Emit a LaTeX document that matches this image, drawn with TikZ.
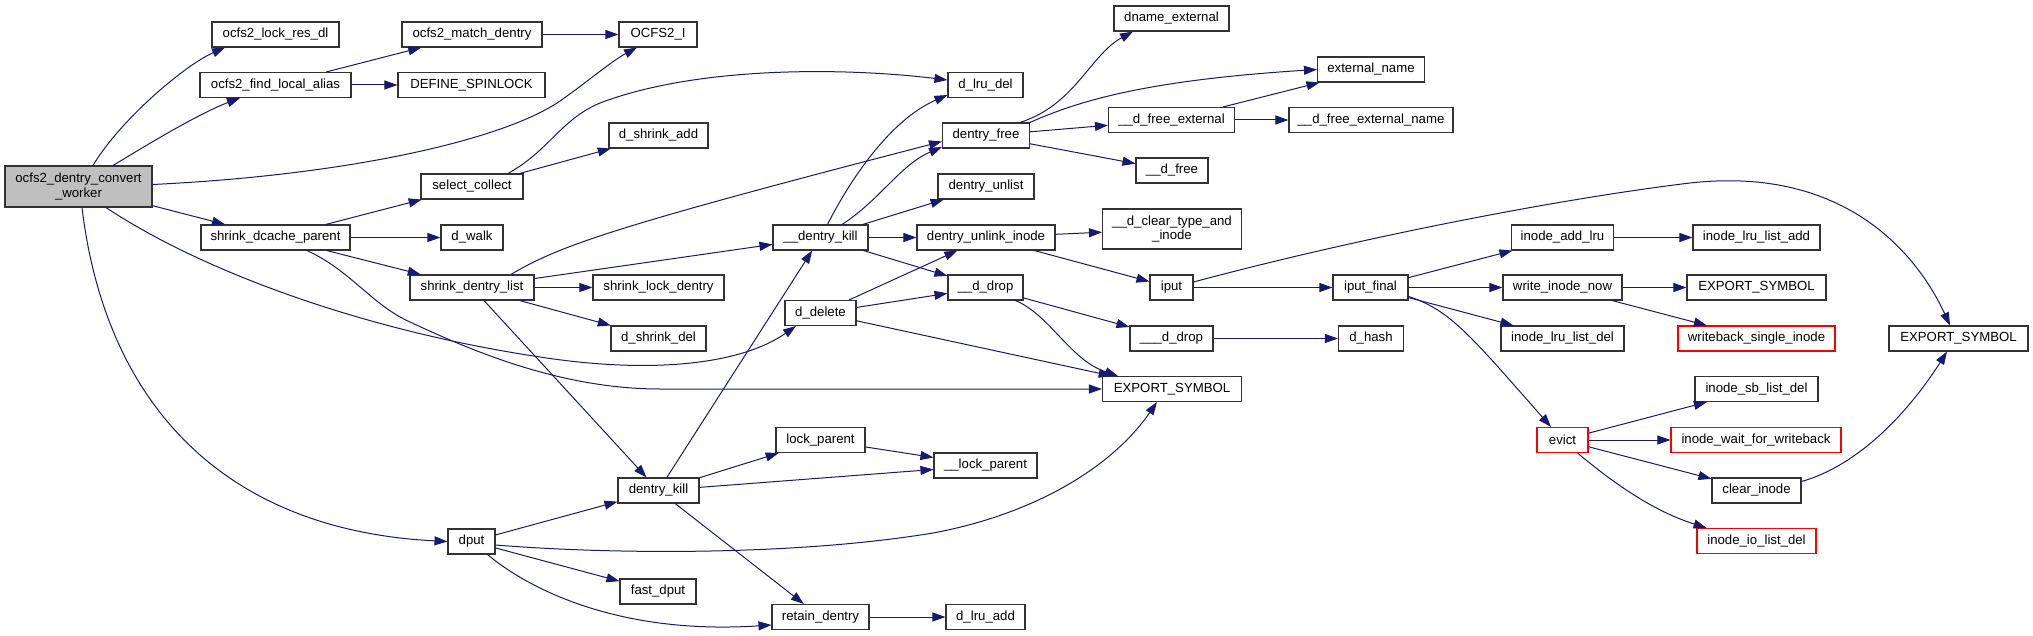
\documentclass[tikz,border=0pt]{standalone}
\usepackage{fontspec}
\setmainfont{Liberation Sans}
\usetikzlibrary{arrows.meta}
\definecolor{edgeblue}{HTML}{191970}
\definecolor{rootgray}{HTML}{BFBFBF}
\begin{document}
\begin{tikzpicture}[x=1pt,y=-1pt,
  box/.style={draw=black!80, line width=1.1pt, fill=white, inner sep=0pt, minimum height=25pt, font=\fontsize{13.2}{14.6}\selectfont, align=center},
  redbox/.style={box, draw=red},
  bw/.style={minimum width=#1},
  edge/.style={draw=edgeblue, line width=1pt, -{Triangle[length=13pt,width=9pt]}}]
\useasboundingbox (0,0) rectangle (2033,636);
% column 0
\node[box, bw=147pt, minimum height=41pt, fill=rootgray] (worker) at (78.5,186.5) {ocfs2\_dentry\_convert\\\_worker};
% column 1
\node[box, bw=127pt] (lockres) at (275.5,34.5) {ocfs2\_lock\_res\_dl};
\node[box, bw=151pt] (findalias) at (275.5,85) {ocfs2\_find\_local\_alias};
\node[box, bw=149pt] (sdp) at (275.5,237.5) {shrink\_dcache\_parent};
% column 2
\node[box, bw=140pt] (matchd) at (472,34.5) {ocfs2\_match\_dentry};
\node[box, bw=147pt] (spinlock) at (471.5,85) {DEFINE\_SPINLOCK};
\node[box, bw=102pt] (selcol) at (472,186.5) {select\_collect};
\node[box, bw=62pt] (dwalk) at (472,237.5) {d\_walk};
\node[box, bw=124pt] (sdl) at (472,287.5) {shrink\_dentry\_list};
\node[box, bw=47pt] (dput) at (471.5,541.5) {dput};
% column 3
\node[box, bw=78pt] (ocfsi) at (658,34.5) {OCFS2\_I};
\node[box, bw=99pt] (dshrinkadd) at (658.5,135.5) {d\_shrink\_add};
\node[box, bw=131pt] (sld) at (658.5,287.5) {shrink\_lock\_dentry};
\node[box, bw=95pt] (dshrinkdel) at (658.5,338.5) {d\_shrink\_del};
\node[box, bw=81pt] (dkill) at (658.5,490.5) {dentry\_kill};
\node[box, bw=76pt] (fastdput) at (658,591.5) {fast\_dput};
% column 4
\node[box, bw=95pt] (dkill2) at (820.5,237.5) {\_\_dentry\_kill};
\node[box, bw=71pt] (ddelete) at (820.5,313) {d\_delete};
\node[box, bw=89pt] (lockp) at (820.5,440) {lock\_parent};
\node[box, bw=97pt] (retain) at (820.5,617) {retain\_dentry};
% column 5
\node[box, bw=75pt] (dlrudel) at (985.5,85) {d\_lru\_del};
\node[box, bw=87pt] (dfree) at (986,135.5) {dentry\_free};
\node[box, bw=96pt] (dunlist) at (986,186.5) {dentry\_unlist};
\node[box, bw=138pt] (dui) at (986,237.5) {dentry\_unlink\_inode};
\node[box, bw=75pt] (ddrop) at (985.5,287.5) {\_\_d\_drop};
\node[box, bw=103pt] (llockp) at (985.5,465.5) {\_\_lock\_parent};
\node[box, bw=79pt] (dlruadd) at (985.5,617) {d\_lru\_add};
% column 6
\node[box, bw=115pt] (dnameext) at (1171.5,18.5) {dname\_external};
\node[box, bw=126pt] (dfreeext) at (1171.5,120) {\_\_d\_free\_external};
\node[box, bw=72pt] (dfree2) at (1172,170.5) {\_\_d\_free};
\node[box, bw=139pt, minimum height=40pt] (dclear) at (1172,229) {\_\_d\_clear\_type\_and\\\_inode};
\node[box, bw=43pt] (iput) at (1171.5,287.5) {iput};
\node[box, bw=83pt] (dddrop) at (1171.5,338.5) {\_\_\_d\_drop};
\node[box, bw=139pt] (exp1) at (1172,389) {EXPORT\_SYMBOL};
% column 7
\node[box, bw=107pt] (extname) at (1371,69.5) {external\_name};
\node[box, bw=164pt] (dfreeextname) at (1371,120) {\_\_d\_free\_external\_name};
\node[box, bw=75pt] (iputfinal) at (1370.5,287.5) {iput\_final};
\node[box, bw=65pt] (dhash) at (1371,338.5) {d\_hash};
% column 8
\node[box, bw=102pt] (inodeaddlru) at (1562.5,237.5) {inode\_add\_lru};
\node[box, bw=119pt] (win) at (1562.5,287.5) {write\_inode\_now};
\node[box, bw=123pt] (ilrudel) at (1562.5,338.5) {inode\_lru\_list\_del};
\node[redbox, bw=51pt] (evict) at (1562.5,440) {evict};
% column 9
\node[box, bw=127pt] (ilruadd) at (1756.5,237.5) {inode\_lru\_list\_add};
\node[box, bw=139pt] (exp2) at (1756.5,287.5) {EXPORT\_SYMBOL};
\node[redbox, bw=157pt] (wsi) at (1756.5,338.5) {writeback\_single\_inode};
\node[box, bw=123pt] (isbdel) at (1756.5,389) {inode\_sb\_list\_del};
\node[redbox, bw=170pt] (iwfw) at (1756,440) {inode\_wait\_for\_writeback};
\node[box, bw=89pt] (clearinode) at (1756.5,490.5) {clear\_inode};
\node[redbox, bw=119pt] (iiodel) at (1756.5,541) {inode\_io\_list\_del};
% column 10
\node[box, bw=139pt] (exp3) at (1958.5,338.5) {EXPORT\_SYMBOL};

% edges
\draw[edge] ([xshift=14.5pt]worker.north) .. controls (120,120) and (185,65) .. ([xshift=-50.5pt]lockres.south);
\draw[edge] ([xshift=34.5pt]worker.north) .. controls (150,143) and (200,113) .. ([xshift=-35.5pt]findalias.south);
\draw[edge] ([yshift=2pt]worker.east) .. controls (350,175) and (500,140) .. (557,103) .. controls (585,84) and (610,62) .. ([xshift=-21pt]ocfsi.south);
\draw[edge] (worker) -- (sdp);
\draw[edge] ([xshift=27.5pt]worker.south) .. controls (200,270) and (360,330) .. (540,357) .. controls (650,374) and (740,365) .. ([xshift=-24.5pt]ddelete.south);
\draw[edge] ([xshift=3.5pt]worker.south) .. controls (105,400) and (220,530) .. (dput.west);
\draw[edge] (findalias) -- (matchd);
\draw[edge] (findalias) -- (spinlock);
\draw[edge] (matchd) -- (ocfsi);
\draw[edge] (sdp) -- (selcol);
\draw[edge] (sdp) -- (dwalk);
\draw[edge] (sdp) -- (sdl);
\draw[edge] ([xshift=31.5pt]sdp.south) .. controls (350,270) and (372,305) .. (410,322) .. controls (470,350) and (560,389) .. (660,389) -- (exp1.west);
\draw[edge] ([xshift=36pt]selcol.north) .. controls (550,150) and (560,120) .. (600,103) .. controls (700,65) and (850,68) .. ([yshift=5pt]dlrudel.west);
\draw[edge] (selcol) -- (dshrinkadd);
\draw[edge] ([xshift=39pt]sdl.north) .. controls (560,245) and (620,225) .. ([yshift=-6pt]dfree.west);
\draw[edge] (sdl) -- (dkill2);
\draw[edge] (sdl) -- (sld);
\draw[edge] (sdl) -- (dshrinkdel);
\draw[edge] (sdl) -- (dkill);
\draw[edge] ([xshift=7pt]dkill2.north) .. controls (850,180) and (890,120) .. ([yshift=-10pt]dlrudel.west);
\draw[edge] ([xshift=21.5pt]dkill2.north) .. controls (880,200) and (900,165) .. ([yshift=-11.5pt]dfree.west);
\draw[edge] (dkill2) -- (dunlist);
\draw[edge] (dkill2) -- (dui);
\draw[edge] (dkill2) -- (ddrop);
\draw[edge] (ddelete) -- (dui);
\draw[edge] (ddelete) -- (ddrop);
\draw[edge] (ddelete) -- (exp1);
\draw[edge] ([xshift=30pt]ddrop.south) .. controls (1050,315) and (1070,360) .. ([xshift=-54pt]exp1.north);
\draw[edge] (ddrop) -- (dddrop);
\draw[edge] (dkill) -- (dkill2);
\draw[edge] (dkill) -- (lockp);
\draw[edge] (dkill) -- (llockp);
\draw[edge] (dkill) -- (retain);
\draw[edge] (lockp) -- (llockp);
\draw[edge] (retain) -- (dlruadd);
\draw[edge] (dput) -- (dkill);
\draw[edge] (dput) -- (fastdput);
\draw[edge] ([yshift=-3.5pt]dput.east) .. controls (620,555) and (800,555) .. (933,533) .. controls (1030,515) and (1110,470) .. ([xshift=-15pt]exp1.south);
\draw[edge] ([xshift=16pt]dput.south) .. controls (530,590) and (620,635) .. ([yshift=-8pt]retain.west);
\draw[edge] ([xshift=34pt]dfree.north) .. controls (1075,105) and (1090,55) .. ([xshift=-38.5pt]dnameext.south);
\draw[edge] (dfree.north east) .. controls (1080,100) and (1150,80) .. (extname.west);
\draw[edge] (dfree) -- (dfreeext);
\draw[edge] (dfree) -- (dfree2);
\draw[edge] (dfreeext) -- (extname);
\draw[edge] (dfreeext) -- (dfreeextname);
\draw[edge] (dui) -- (dclear);
\draw[edge] (dui) -- (iput);
\draw[edge] (dddrop) -- (dhash);
\draw[edge] ([yshift=5.5pt]iput.east) .. controls (1350,240) and (1550,200) .. (1690,183) .. controls (1850,165) and (1920,260) .. ([xshift=-8.5pt]exp3.north);
\draw[edge] (iput) -- (iputfinal);
\draw[edge] (iputfinal) -- (inodeaddlru);
\draw[edge] (iputfinal) -- (win);
\draw[edge] (iputfinal) -- (ilrudel);
\draw[edge] ([yshift=-9pt]iputfinal.east) .. controls (1450,310) and (1470,335) .. ([xshift=-11.5pt]evict.north);
\draw[edge] (inodeaddlru) -- (ilruadd);
\draw[edge] (win) -- (exp2);
\draw[edge] (win) -- (wsi);
\draw[edge] (evict) -- (isbdel);
\draw[edge] (evict) -- (iwfw);
\draw[edge] (evict) -- (clearinode);
\draw[edge] ([xshift=15pt]evict.south) .. controls (1610,480) and (1650,510) .. ([xshift=-50pt]iiodel.north);
\draw[edge] ([yshift=9pt]clearinode.east) .. controls (1860,465) and (1910,410) .. ([xshift=-11.5pt]exp3.south);
\end{tikzpicture}
\end{document}
